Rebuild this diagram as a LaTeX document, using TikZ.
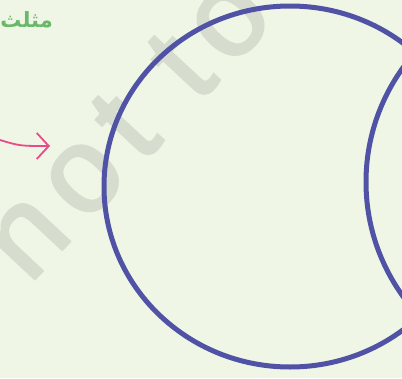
\documentclass[tikz,border=0pt]{standalone}
\usepackage{fontspec}
\setmainfont{Liberation Sans}
\newfontfamily\arabicfont[Script=Arabic]{DejaVu Sans}
\TeXXeTstate=1
\usepackage{tikz}
\usetikzlibrary{positioning, arrows.meta, calc}
\definecolor{bgpaper}{RGB}{240,246,230}
\definecolor{setblue}{RGB}{80,82,165}
\definecolor{arrowpink}{RGB}{233,75,138}
\definecolor{labelgreen}{RGB}{106,184,106}
\definecolor{stampgray}{RGB}{214,221,206}

\begin{document}
\begin{tikzpicture}[x=1pt, y=-1pt, >={Straight Barb[length=12pt, width=26pt]},
  setline/.style={draw=setblue, line width=5pt},
  pointer/.style={->, draw=arrowpink, line width=1.8pt},
  tag/.style={text=labelgreen, font=\arabicfont\bfseries\fontsize{21}{21}\selectfont, inner sep=0pt},
  stamp/.style={text=stampgray, font=\addfontfeature{LetterSpace=13,FakeBold=2.5}\fontsize{120}{120}\selectfont, rotate=47, inner sep=0pt}]

  \fill[bgpaper] (0,0) rectangle (402,378);
  \useasboundingbox (0,0) rectangle (402,378);

  % watermark behind everything
  \node[stamp] (mark) at (125,126) {not to};

  % the two sets
  \draw[setline] (290,186.5) ellipse [x radius=186pt, y radius=180.5pt];
  \draw[setline] (572,182) ellipse [x radius=206pt, y radius=200pt];

  \node[tag, anchor=east] (tri) at (53,20) {\beginR مثلث\endR};

  \coordinate (from) at (0,140);
  \coordinate (tip) at (50,146);
  \draw[pointer] (from) .. controls (20,146) .. (tip);
\end{tikzpicture}
\end{document}
